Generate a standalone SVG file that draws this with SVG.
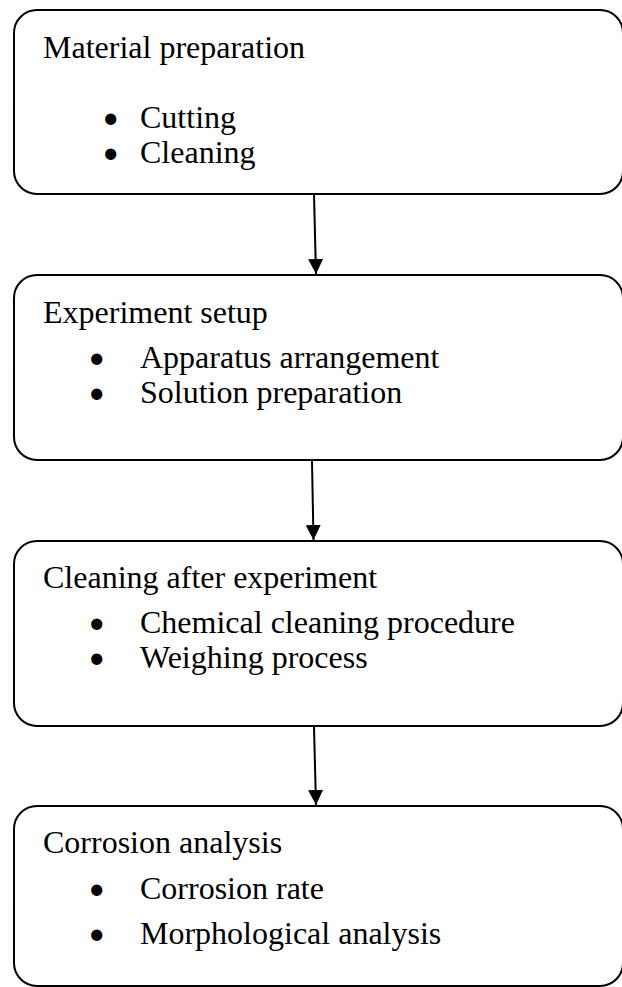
<svg xmlns="http://www.w3.org/2000/svg" width="622" height="987" viewBox="0 0 622 987">
<style>
.box{fill:#fff;stroke:#000;stroke-width:2}
.t{font-family:"Liberation Serif","Times New Roman",serif;font-size:32px;fill:#000}
.b{font-family:Lato,"DejaVu Sans",sans-serif;font-size:30px;text-anchor:middle}
.conn{stroke:#000;stroke-width:2;fill:none}
</style>
<defs>
<marker id="ah" markerUnits="userSpaceOnUse" markerWidth="16" markerHeight="15" refX="15" refY="7.5" orient="auto">
<path d="M0,0 L15,7.5 L0,15 z" fill="#000"/>
</marker>
</defs>
<rect width="622" height="987" fill="#fff"/>
<g id="connectors">
<line class="conn" x1="314" y1="195" x2="316" y2="274" marker-end="url(#ah)"/>
<line class="conn" x1="312" y1="461" x2="313.5" y2="540" marker-end="url(#ah)"/>
<line class="conn" x1="314" y1="727" x2="316" y2="805" marker-end="url(#ah)"/>
</g>
<g id="node1">
<rect class="box" x="14" y="10" width="609" height="184" rx="23"/>
<text class="t" x="43" y="58">Material preparation</text>
<text class="t b" x="110.7" y="128">•</text>
<text class="t" x="140" y="128">Cutting</text>
<text class="t b" x="110.7" y="163">•</text>
<text class="t" x="140" y="163">Cleaning</text>
</g>
<g id="node2">
<rect class="box" x="14" y="275" width="609" height="185" rx="23"/>
<text class="t" x="43" y="323">Experiment setup</text>
<text class="t b" x="96.7" y="368">•</text>
<text class="t" x="140" y="368">Apparatus arrangement</text>
<text class="t b" x="96.7" y="403">•</text>
<text class="t" x="140" y="403">Solution preparation</text>
</g>
<g id="node3">
<rect class="box" x="14" y="541" width="609" height="185" rx="23"/>
<text class="t" x="43" y="588">Cleaning after experiment</text>
<text class="t b" x="96.7" y="633">•</text>
<text class="t" x="140" y="633">Chemical cleaning procedure</text>
<text class="t b" x="96.7" y="668">•</text>
<text class="t" x="140" y="668">Weighing process</text>
</g>
<g id="node4">
<rect class="box" x="14" y="806" width="609" height="180" rx="23"/>
<text class="t" x="43" y="853">Corrosion analysis</text>
<text class="t b" x="96.7" y="899">•</text>
<text class="t" x="140" y="899">Corrosion rate</text>
<text class="t b" x="96.7" y="944">•</text>
<text class="t" x="140" y="944">Morphological analysis</text>
</g>
</svg>
